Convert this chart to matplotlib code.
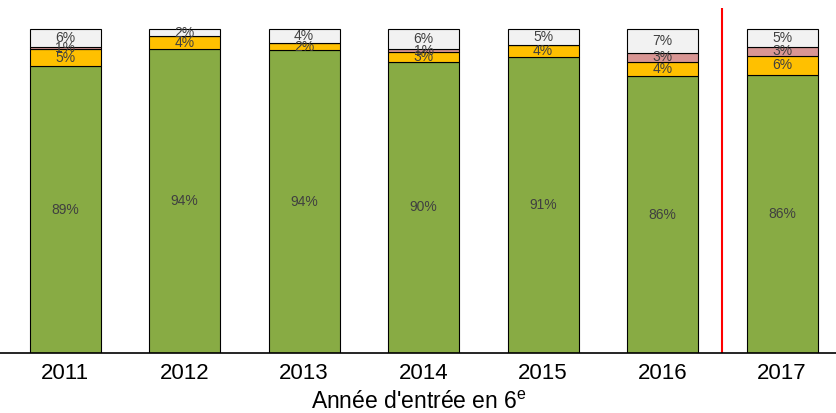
import numpy as np
import matplotlib.pyplot as plt

plt.rcParams['font.family'] = ['Liberation Sans', 'DejaVu Sans']

years = ['2011', '2012', '2013', '2014', '2015', '2016', '2017']
green = [88.6, 93.8, 93.5, 90.0, 91.4, 85.6, 85.9]
orange = [5.2, 4.1, 2.2, 3.0, 3.7, 4.3, 5.9]
pink = [0.6, 0.0, 0.0, 0.8, 0.0, 2.8, 2.8]
gray = [5.6, 2.1, 4.3, 6.2, 4.9, 7.3, 5.4]

series = [green, orange, pink, gray]
colors = ['#88AB44', '#FFC000', '#D99694', '#F2F2F2']

fig = plt.figure(figsize=(8.37, 4.13), dpi=100)
ax = fig.add_axes([0.0, 0.145, 1.0, 0.835])

x = np.arange(len(years))
bottom = np.zeros(len(years))
for vals, col in zip(series, colors):
    vals = np.array(vals)
    ax.bar(x, vals, bottom=bottom, width=0.594, color=col, edgecolor='black', linewidth=0.8)
    for xi, b, v in zip(x, bottom, vals):
        if v > 0:
            ax.text(xi, b + v / 2, f"{round(v)}%", ha='center', va='center',
                    fontsize=10, color='#404040')
    bottom += vals

ax.axvline(5.5, color='red', linewidth=1.5)
ax.set_xlim(-0.544, 6.46)
ax.set_ylim(0, 106.5)
ax.set_xticks(x)
ax.set_xticklabels(years, fontsize=16)
ax.tick_params(axis='x', length=0, pad=7)
ax.set_yticks([])
for s in ['top', 'right', 'left']:
    ax.spines[s].set_visible(False)
ax.spines['bottom'].set_linewidth(1.2)
ax.set_xlabel("Année d'entrée en 6$^{\\mathregular{e}}$", fontsize=16.5, labelpad=5)

fig.savefig('out.png', dpi=100)
